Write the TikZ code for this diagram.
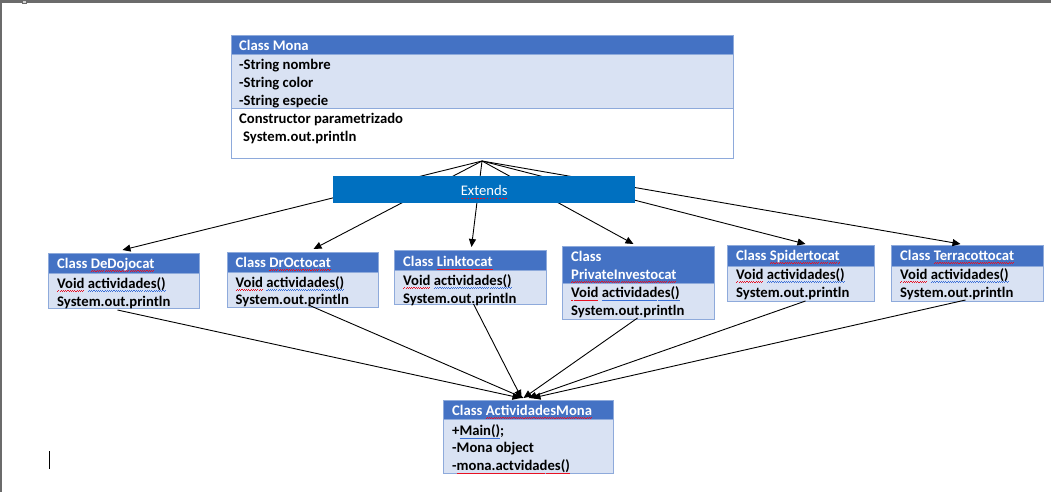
\documentclass[tikz,border=0pt]{standalone}
\usepackage{fontspec}
\setmainfont{Carlito}
\usetikzlibrary{arrows.meta}
\definecolor{hblue}{HTML}{4472C4}
\definecolor{lblue}{HTML}{D9E2F3}
\definecolor{bord}{HTML}{8EAADB}
\definecolor{extb}{HTML}{0070C0}
\definecolor{sqblue}{HTML}{3A6FD8}
\definecolor{sqred}{HTML}{E81123}
\definecolor{framegray}{HTML}{6B6B6B}
\newcommand\wavepiece{\hbox{\rule{1.1pt}{0.6pt}\rule[0.6pt]{1.1pt}{0.6pt}}}
\newcommand\dashpiece{\hbox{\kern0.7pt\rule{1.6pt}{0.8pt}\kern0.7pt}}
\newcommand\squig[3]{\setbox0\hbox{#3}\rlap{\raisebox{-3.5pt}{\hbox to \wd0{\color{#1}\xleaders#2\hfill}}}\box0\relax}
\newcommand\wavered[1]{\squig{sqred}{\wavepiece}{#1}}
\newcommand\waveblue[1]{\squig{sqblue}{\wavepiece}{#1}}
\newcommand\dashred[1]{\squig{sqred}{\dashpiece}{#1}}
\tikzset{
  box/.style={draw=bord, line width=1pt, anchor=north west, inner sep=0pt},
  hdr/.style={box, fill=hblue},
  bdy/.style={box, fill=lblue},
  wbdy/.style={box, fill=white},
  t/.style={anchor=base west, inner sep=0pt},
  wt/.style={t, text=white},
  arr/.style={line width=0.9pt, -{Triangle[length=8pt,width=7pt]}},
}
\begin{document}
\begin{tikzpicture}[x=1pt,y=-1pt,font=\fontsize{14.67pt}{18pt}\selectfont\bfseries]
\useasboundingbox (0,0) rectangle (1051,492);
\fill[white] (0,0) rectangle (1051,492);
% window frame
\fill[framegray] (0,0) rectangle (1051,3);
\fill[framegray] (0,0) rectangle (2,492);
\filldraw[fill=gray!35, draw=framegray, line width=0.6pt] (22,0) rectangle (26,3);
\draw[line width=1pt] (49.5,451) -- (49.5,469);

% Class Mona
\node[hdr, minimum width=502pt, minimum height=19pt] (monaH) at (231,35) {};
\node[bdy, minimum width=502pt, minimum height=54pt] (monaA) at (231,54) {};
\node[wbdy, minimum width=502pt, minimum height=50pt] (monaB) at (231,108) {};
\node[wt] (monaT) at (239,50.5) {Class Mona};
\node[t] (m1) at (239,69.5) {-String nombre};
\node[t] (m2) at (239,87.5) {-String color};
\node[t] (m3) at (239,105.5) {-String especie};
\node[t] (m4) at (239,123.5) {Constructor parametrizado};
\node[t] (m5) at (243,142) {System.out.println};

% DeDojocat
\node[hdr, minimum width=151pt, minimum height=20pt] (dojoH) at (48,253) {};
\node[bdy, minimum width=151pt, minimum height=35pt] (dojoB) at (48,273) {};
\node[wt] (dojoT) at (57,268) {Class \wavered{DeDojocat}};
\node[t] (dojo1) at (57,288) {\wavered{Void} \waveblue{actividades()}};
\node[t] (dojo2) at (57,306) {System.out.println};

% DrOctocat
\node[hdr, minimum width=151pt, minimum height=20pt] (octoH) at (227,252) {};
\node[bdy, minimum width=151pt, minimum height=35pt] (octoB) at (227,272) {};
\node[wt] (octoT) at (235.5,267) {Class \wavered{DrOctocat}};
\node[t] (octo1) at (235.5,287) {\wavered{Void} \waveblue{actividades()}};
\node[t] (octo2) at (235.5,304.5) {System.out.println};

% Linktocat
\node[hdr, minimum width=152pt, minimum height=20pt] (linkH) at (394,250) {};
\node[bdy, minimum width=152pt, minimum height=34pt] (linkB) at (394,270) {};
\node[wt] (linkT) at (403,266.5) {Class \wavered{Linktocat}};
\node[t] (link1) at (403,285) {\wavered{Void} \waveblue{actividades()}};
\node[t] (link2) at (403,303) {System.out.println};

% PrivateInvestocat
\node[hdr, minimum width=152pt, minimum height=37pt] (privH) at (562,246) {};
\node[bdy, minimum width=152pt, minimum height=36pt] (privB) at (562,283) {};
\node[wt] (privT) at (571,261) {Class};
\node[wt] (privT2) at (571,279) {\wavered{PrivateInvestocat}};
\node[t] (priv1) at (571,297.5) {\wavered{Void} \waveblue{actividades()}};
\node[t] (priv2) at (571,315.5) {System.out.println};

% Spidertocat
\node[hdr, minimum width=147pt, minimum height=21pt] (spidH) at (727,245) {};
\node[bdy, minimum width=147pt, minimum height=35pt] (spidB) at (727,266) {};
\node[wt] (spidT) at (736,260) {Class \wavered{Spidertocat}};
\node[t] (spid1) at (736,279) {\wavered{Void} \waveblue{actividades()}};
\node[t] (spid2) at (736,297.5) {System.out.println};

% Terracottocat
\node[hdr, minimum width=152pt, minimum height=21pt] (terrH) at (891,245) {};
\node[bdy, minimum width=152pt, minimum height=35pt] (terrB) at (891,266) {};
\node[wt] (terrT) at (900,260) {Class \wavered{Terracottocat}};
\node[t] (terr1) at (900,279) {\wavered{Void} \waveblue{actividades()}};
\node[t] (terr2) at (900,297.5) {System.out.println};

% ActividadesMona
\node[hdr, minimum width=170pt, minimum height=19pt] (actH) at (443,400) {};
\node[bdy, minimum width=170pt, minimum height=54pt] (actB) at (443,419) {};
\node[wt] (actT) at (452,415) {Class \wavered{ActividadesMona}};
\node[t] (act1) at (452,435.5) {+\waveblue{Main()};};
\node[t] (act2) at (452,452) {-Mona object};
\node[t] (act3) at (452,470.5) {-\wavered{mona.actvidades()}};

% inheritance fan
\coordinate (apex) at (482,161);
\draw[arr] (apex) -- ([xshift=-1.5pt,yshift=3pt]dojoH.north);
\draw[arr] (apex) -- ([xshift=10.5pt,yshift=3pt]octoH.north);
\draw[arr] (apex) -- ([xshift=1pt,yshift=3pt]linkH.north);
\draw[arr] (apex) -- ([xshift=-5pt,yshift=2pt]privH.north);
\draw[arr] (apex) -- ([xshift=4.5pt,yshift=1pt]spidH.north);
\draw[arr] (apex) -- ([xshift=-7pt,yshift=1pt]terrH.north);

% usage connectors
\draw[arr] ([xshift=-6.5pt,yshift=-1pt]dojoB.south) -- ([xshift=-8pt,yshift=2pt]actH.north);
\draw[arr] ([xshift=5.5pt,yshift=3pt]octoB.south) -- ([xshift=-5pt,yshift=2pt]actH.north);
\draw[arr] ([xshift=3pt,yshift=1pt]linkB.south) -- ([xshift=-7pt,yshift=2pt]actH.north);
\draw[arr] ([xshift=-1pt,yshift=2pt]privB.south) -- ([xshift=-5pt,yshift=2pt]actH.north);
\draw[arr] ([xshift=4.5pt,yshift=1pt]spidB.south) -- ([xshift=0pt,yshift=2pt]actH.north);
\draw[arr] ([xshift=-2pt,yshift=2pt]terrB.south) -- ([xshift=4pt,yshift=2pt]actH.north);

% Extends bar (drawn over the fan)
\node[anchor=north west, inner sep=0pt, fill=extb, minimum width=302pt, minimum height=27pt, text height=12pt, text depth=1pt, text=white, font=\fontsize{14.67pt}{18pt}\selectfont\mdseries] (ext) at (333,176) {\dashred{Extends}};
\end{tikzpicture}
\end{document}
